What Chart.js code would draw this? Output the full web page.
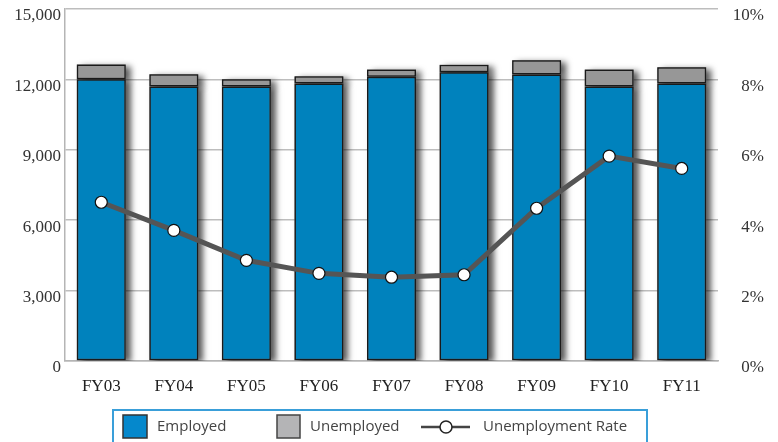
<!DOCTYPE html>
<html>
<head>
<meta charset="utf-8">
<title>Employment</title>
<script src="https://cdn.jsdelivr.net/npm/chart.js@4.4.1/dist/chart.umd.min.js"></script>
<style>
  html, body { margin: 0; padding: 0; background: #fff; }
  #wrap { width: 778px; height: 442px; position: relative; }
</style>
</head>
<body>
<div id="wrap"><canvas id="bar-chart"></canvas></div>
<script>
var categories = ['FY03', 'FY04', 'FY05', 'FY06', 'FY07', 'FY08', 'FY09', 'FY10', 'FY11'];
var employed = [12010, 11700, 11700, 11830, 12110, 12310, 12210, 11700, 11830];
var unemployed = [630, 520, 310, 300, 310, 310, 610, 720, 690];
var unemploymentRate = [4.51, 3.71, 2.86, 2.49, 2.38, 2.45, 4.34, 5.82, 5.47];
var seriesNames = ['Employed', 'Unemployed', 'Unemployment Rate'];

var BLUE = '#0082bd';
var GREY = '#979797';
var tickFont = { family: '"Liberation Serif", "DejaVu Serif", serif', size: 17 };

// drop shadow behind the bars (drawn first, the bars cover it)
var barShadow = {
    id: 'barShadow',
    beforeDatasetsDraw: function (chart) {
        var c = chart.ctx, a = chart.chartArea;
        c.save();
        c.beginPath();
        c.rect(a.left, a.top, a.right - a.left, a.bottom - a.top);
        c.clip();
        c.shadowColor = 'rgba(0,0,0,0.65)';
        c.shadowBlur = 6;
        c.shadowOffsetX = 5;
        c.shadowOffsetY = 2;
        c.fillStyle = '#666';
        [1, 2].forEach(function (i) {
            chart.getDatasetMeta(i).data.forEach(function (bar) {
                var p = bar.getProps(['x', 'y', 'base', 'width'], true);
                c.fillRect(p.x - p.width / 2, Math.min(p.y, p.base), p.width, Math.abs(p.base - p.y));
            });
        });
        c.restore();
    }
};

// boxed legend under the axis
var boxLegend = {
    id: 'boxLegend',
    afterDraw: function (chart) {
        var c = chart.ctx;
        c.save();
        c.strokeStyle = '#3a9fd9';
        c.lineWidth = 2;
        c.strokeRect(113, 410, 534, 45);

        c.lineWidth = 1.5;
        c.fillStyle = '#0588cc';
        c.strokeStyle = '#333';
        c.fillRect(123, 415, 24, 23);
        c.strokeRect(123, 415, 24, 23);

        c.fillStyle = '#b4b4b6';
        c.strokeStyle = '#444';
        c.fillRect(277, 415, 23, 23);
        c.strokeRect(277, 415, 23, 23);

        c.strokeStyle = '#444';
        c.lineWidth = 2.5;
        c.beginPath();
        c.moveTo(421, 427);
        c.lineTo(470, 427);
        c.stroke();
        c.beginPath();
        c.arc(446, 427, 6, 0, Math.PI * 2);
        c.fillStyle = '#fff';
        c.fill();
        c.lineWidth = 1.5;
        c.strokeStyle = '#222';
        c.stroke();

        c.fillStyle = '#444';
        c.font = '15px "Open Sans", "Noto Sans", sans-serif';
        c.textBaseline = 'middle';
        c.fillText(seriesNames[0], 157, 427);
        c.fillText(seriesNames[1], 310, 427);
        c.fillText(seriesNames[2], 483, 427);
        c.restore();
    }
};

var ctx = document.getElementById('bar-chart');

var chart = new Chart(ctx, {
    type: 'bar',
    data: {
        labels: categories,
        datasets: [
            {
                type: 'line',
                label: seriesNames[2],
                data: unemploymentRate,
                yAxisID: 'y1',
                borderColor: '#555',
                borderWidth: 5,
                pointRadius: 6,
                pointBorderWidth: 1.2,
                pointBorderColor: '#111',
                pointBackgroundColor: '#fff',
                tension: 0
            },
            {
                label: seriesNames[0],
                data: employed,
                yAxisID: 'y',
                backgroundColor: BLUE,
                borderColor: '#1a1a1a',
                borderWidth: 1.5,
                borderSkipped: false,
                categoryPercentage: 1,
                barPercentage: 0.675
            },
            {
                label: seriesNames[1],
                data: unemployed,
                yAxisID: 'y',
                backgroundColor: GREY,
                borderColor: '#1a1a1a',
                borderWidth: 1.5,
                borderSkipped: false,
                categoryPercentage: 1,
                barPercentage: 0.675
            }
        ]
    },
    options: {
        responsive: true,
        maintainAspectRatio: false,
        animation: false,
        layout: { padding: { top: 9, left: 0, right: 14, bottom: 0 } },
        plugins: {
            legend: { display: false },
            tooltip: { enabled: false }
        },
        scales: {
            x: {
                stacked: true,
                grid: { display: false },
                border: { display: true, color: '#b5b5b5', width: 1.5 },
                ticks: { font: tickFont, color: '#222', padding: 7 },
                afterFit: function (s) { s.height = 81; }
            },
            y: {
                stacked: true,
                position: 'left',
                min: 0,
                max: 15000,
                ticks: {
                    stepSize: 3000,
                    font: tickFont,
                    color: '#333',
                    padding: 4,
                    labelOffset: 7,
                    callback: function (v) { return v.toLocaleString('en-US'); }
                },
                grid: { color: '#bdbdbd', lineWidth: 1.5, drawTicks: false },
                border: { display: true, color: '#b5b5b5', width: 1.5 },
                afterFit: function (s) { s.width = 65; s.paddingTop = 0; s.paddingBottom = 0; }
            },
            y1: {
                position: 'right',
                min: 0,
                max: 10,
                ticks: {
                    stepSize: 2,
                    font: tickFont,
                    color: '#333',
                    padding: 3,
                    crossAlign: 'far',
                    labelOffset: 7,
                    callback: function (v) { return v + '%'; }
                },
                grid: { display: false, drawTicks: false },
                border: { display: false },
                afterFit: function (s) { s.width = 46; s.paddingTop = 0; s.paddingBottom = 0; }
            }
        }
    },
    plugins: [barShadow, boxLegend]
});
</script>
</body>
</html>
